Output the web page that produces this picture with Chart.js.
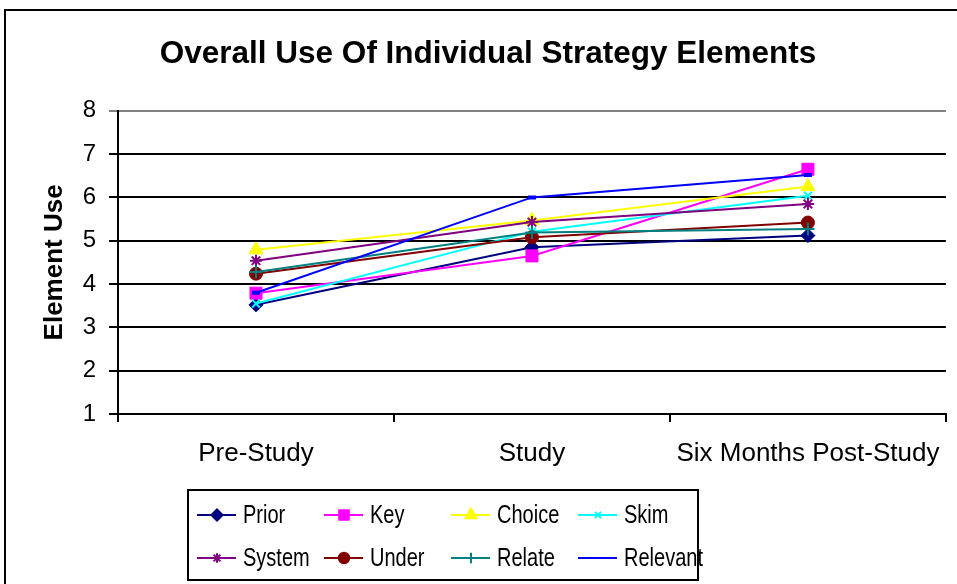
<!DOCTYPE html>
<html><head><meta charset="utf-8">
<script src="https://cdn.jsdelivr.net/npm/chart.js@4/dist/chart.umd.min.js"></script>
<style>html,body{margin:0;padding:0;background:#fff;overflow:hidden}#wrap{position:relative;width:957px;height:584px}</style>
</head><body><div id="wrap"><canvas id="c" width="957" height="584"></canvas></div>
<script>
// ---- data ----
const categories = ['Pre-Study', 'Study', 'Six Months Post-Study'];
const seriesNames = ['Prior', 'Key', 'Choice', 'Skim', 'System', 'Under', 'Relate', 'Relevant'];
const prior    = [3.52, 4.85, 5.12];
const key      = [3.79, 4.65, 6.65];
const choice   = [4.79, 5.47, 6.25];
const skim     = [3.55, 5.21, 6.04];
const system   = [4.54, 5.43, 5.85];
const under    = [4.24, 5.08, 5.42];
const relate   = [4.28, 5.19, 5.27];
const relevant = [3.80, 6.00, 6.52];
const yTicks   = [1, 2, 3, 4, 5, 6, 7, 8];

// ---- styles ----
const seriesValues = [prior, key, choice, skim, system, under, relate, relevant];
const colors = ['#000080', '#FF00FF', '#FFFF00', '#00FFFF', '#800080', '#800000', '#008080', '#0000FF'];
const styles = [
  {pointStyle: 'rectRot', radius: 7, bw: 1},
  {pointStyle: 'rect', radius: 8.5, bw: 1},
  {pointStyle: 'triangle', radius: 8, bw: 1},
  {pointStyle: 'crossRot', radius: 5.5, bw: 2},
  {pointStyle: 'star', radius: 6, bw: 2},
  {pointStyle: 'circle', radius: 6.5, bw: 1},
  {pointStyle: 'cross', radius: 6.5, bw: 2},
  {pointStyle: 'line', radius: 4, bw: 4}
];

const FONT = '"Liberation Sans", Arial, sans-serif';

const datasets = seriesNames.map((name, i) => ({
  label: name,
  data: seriesValues[i],
  borderColor: colors[i],
  backgroundColor: colors[i],
  borderWidth: 2,
  pointStyle: styles[i].pointStyle,
  pointRadius: styles[i].radius,
  pointBorderWidth: styles[i].bw,
  pointBackgroundColor: colors[i],
  pointBorderColor: colors[i],
  pointHoverRadius: styles[i].radius,
  tension: 0,
  order: seriesNames.length - i
}));

function drawMarker(ctx, st, x, y) {
  const opts = {pointStyle: st.pointStyle, rotation: 0, radius: st.radius, borderWidth: st.bw};
  Chart.helpers.drawPoint(ctx, opts, x, y);
}

const framePlugin = {
  id: 'frame',
  beforeDraw(chart) {
    const ctx = chart.ctx;
    ctx.save();
    ctx.fillStyle = '#fff';
    ctx.fillRect(0, 0, chart.width, chart.height);
    ctx.strokeStyle = '#000';
    ctx.lineWidth = 2;
    ctx.strokeRect(5, 10, 1100, 1100);
    ctx.restore();
  },
  afterDraw(chart) {
    const ctx = chart.ctx;
    ctx.save();
    // legend box
    const bx = 188, by = 490, bw = 510, bh = 90;
    ctx.fillStyle = '#fff';
    ctx.fillRect(bx, by, bw, bh);
    ctx.strokeStyle = '#000';
    ctx.lineWidth = 2;
    ctx.strokeRect(bx, by, bw, bh);
    ctx.font = '20px ' + FONT;
    ctx.textBaseline = 'alphabetic';
    ctx.textAlign = 'left';
    chart.data.datasets.forEach((ds, i) => {
      const col = i % 4, row = Math.floor(i / 4);
      const lx = 197 + col * 127, ly = 515 + row * 43;
      ctx.strokeStyle = ds.borderColor;
      ctx.lineWidth = 2;
      ctx.beginPath();
      ctx.moveTo(lx, ly);
      ctx.lineTo(lx + 39, ly);
      ctx.stroke();
      ctx.fillStyle = ds.backgroundColor;
      ctx.strokeStyle = ds.borderColor;
      const st = Object.assign({}, styles[i]);
      st.radius = st.radius * 0.8;
      drawMarker(ctx, st, lx + 20, ly);
      ctx.fillStyle = '#000';
      ctx.save();
      ctx.translate(lx + 46, ly + 8);
      ctx.scale(1, 1.25);
      ctx.fillText(ds.label, 0, 0);
      ctx.restore();
    });
    ctx.restore();
  }
};

new Chart(document.getElementById('c'), {
  type: 'line',
  data: {labels: categories, datasets: datasets},
  plugins: [framePlugin],
  options: {
    responsive: false,
    animation: false,
    events: [],
    layout: {padding: {top: 10, left: 25, right: 6, bottom: 110}},
    plugins: {
      legend: {display: false},
      tooltip: {enabled: false},
      title: {
        display: true,
        text: 'Overall Use Of Individual Strategy Elements',
        color: '#000',
        font: {family: FONT, size: 31.5, weight: 'bold', lineHeight: 1.2},
        padding: {top: 25, bottom: 38}
      }
    },
    scales: {
      x: {
        offset: true,
        grid: {offset: true, drawOnChartArea: false, drawTicks: true, tickLength: 8, color: '#000', lineWidth: 2},
        border: {display: true, color: '#000', width: 2},
        ticks: {color: '#000', font: {family: FONT, size: 26}, padding: 16, maxRotation: 0, autoSkip: false},
        afterFit(scale) { scale.height = 60; }
      },
      y: {
        min: yTicks[0],
        max: yTicks[yTicks.length - 1],
        afterBuildTicks(scale) { scale.ticks = yTicks.map(v => ({value: v})); },
        grid: {
          color: ctx => (ctx.tick && ctx.tick.value === yTicks[yTicks.length - 1]) ? '#808080' : '#000',
          lineWidth: 2, tickLength: 9, drawTicks: true
        },
        border: {display: true, color: '#000', width: 2},
        ticks: {color: '#000', font: {family: FONT, size: 24}, padding: 13, stepSize: 1},
        title: {
          display: true,
          text: 'Element Use',
          color: '#000',
          font: {family: FONT, size: 26, weight: 'bold', lineHeight: 1.2},
          padding: {top: 14, bottom: 0}
        },
        afterFit(scale) { scale.width = 93; }
      }
    }
  }
});
</script></body></html>
